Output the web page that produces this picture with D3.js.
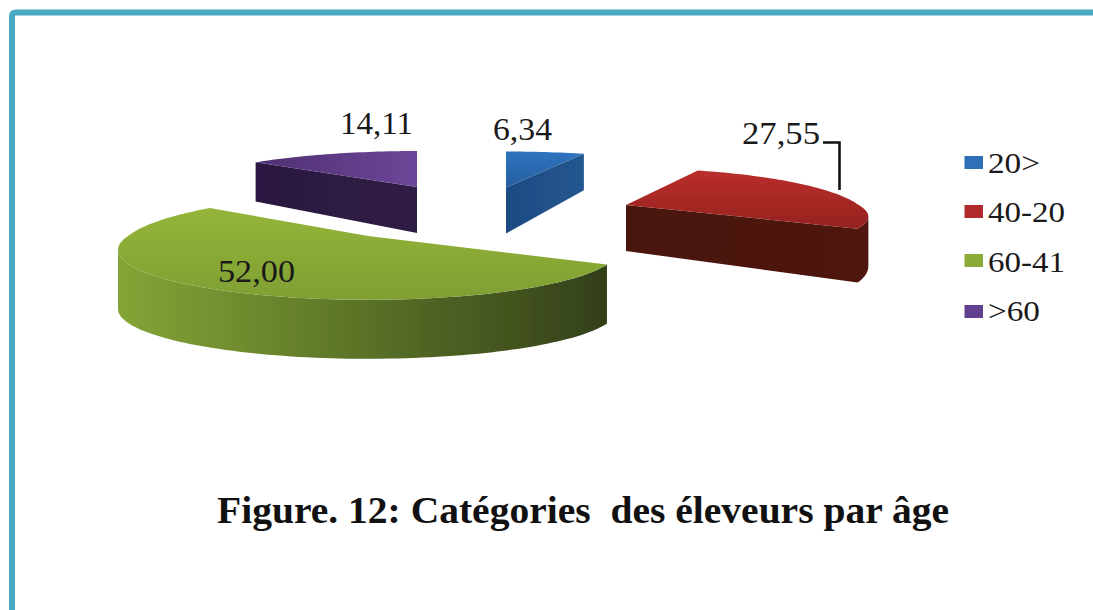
<!DOCTYPE html>
<html>
<head>
<meta charset="utf-8">
<script src="https://cdn.jsdelivr.net/npm/d3@7"></script>
<style>
html,body{margin:0;padding:0;background:#fff;overflow:hidden}
svg{display:block}
text{font-family:"Liberation Serif",serif;fill:#1a1a1a;white-space:pre}
</style>
</head>
<body>
<script>
const categories = ["20>", "40-20", "60-41", ">60"];
const values = [6.34, 27.55, 52.00, 14.11];
const titleText = "Figure. 12: Catégories  des éleveurs par âge";

const W = 1093, H = 610;
const R = 245, DEPTH = 46, PERSP = 0.279;
const apexes = [[506,187.5],[626,205],[368,236],[417,187]];
const radiusScale = [1.03, 0.95, 0.98, 1];
const ryBack = [46, 47, 52, 46];
const ryFront = [43, 38, 46, 43];
const fixedDepth = [null, null, 59, null];
const labelPos = [{x:493,y:140,w:59},{x:742,y:144,w:78},{x:218,y:282,w:77},{x:340,y:134,w:73}];
const topStops = [["#2f74c0","#255e9e"],["#ba2e2b","#95221f"],["#94b539","#7f9f33"],["#4f3072","#6d4699"]];
const wallStops = [["#1c4a82","#24578f"],["#4a1210","#4f1311"],["#84a536","#323f19"],["#2b1940","#2e1b44"]];
const swatch = ["#2f6fb8","#b02a2c","#8aab38","#60408f"];
const legendY = [162.5, 211.5, 260.5, 311.5];
const legendBase = [173, 222, 272, 321];
const legendW = [52, 77, 77, 52];

const fmt = d3.formatLocale({decimal:",",thousands:" ",grouping:[3],currency:["",""]}).format(".2f");

const svg = d3.select("body").append("svg").attr("width",W).attr("height",H);
const defs = svg.append("defs");
defs.append("filter").attr("id","soft").attr("x","-5%").attr("y","-5%").attr("width","110%").attr("height","110%")
  .append("feGaussianBlur").attr("stdDeviation",0.6);

svg.append("rect").attr("width",W).attr("height",H).attr("fill","#fff");
svg.append("path")
  .attr("d",`M12,${H+10} V16 Q12,12.5 16,12.5 H${W+10}`)
  .attr("fill","none").attr("stroke","#4ba9c5").attr("stroke-width",6);

const slices = d3.pie().sort(null).startAngle(0).endAngle(2*Math.PI)(values);
const line = d3.line();
const marks = svg.append("g").attr("filter","url(#soft)");

function project(i, theta, radial, h){
  const apex = apexes[i];
  const u = Math.sin(theta)*radial, v = -Math.cos(theta)*radial;
  const s = 1/(1 - PERSP*v);
  const ry = v < 0 ? ryBack[i] : ryFront[i];
  const depth = fixedDepth[i] === null ? DEPTH*s : fixedDepth[i];
  return [apex[0]+u*R*radiusScale[i]*s, apex[1]+v*ry*s+h*depth];
}

slices.forEach((d,i)=>{
  const n = Math.max(8, Math.round((d.endAngle-d.startAngle)*40));
  const thetas = d3.range(n+1).map(k=>d.startAngle+(d.endAngle-d.startAngle)*k/n);
  const outline = [{t:0,r:0}].concat(thetas.map(t=>({t,r:1})));
  const top = outline.map(p=>project(i,p.t,p.r,0));
  const bot = outline.map(p=>project(i,p.t,p.r,1));
  const xs = top.map(p=>p[0]), ys = top.map(p=>p[1]);

  const gw = defs.append("linearGradient").attr("id","w"+i).attr("gradientUnits","userSpaceOnUse")
    .attr("x1",d3.min(xs)).attr("x2",d3.max(xs)).attr("y1",0).attr("y2",0);
  gw.append("stop").attr("offset",0).attr("stop-color",wallStops[i][0]);
  gw.append("stop").attr("offset",1).attr("stop-color",wallStops[i][1]);

  const horizontal = i===3;
  const gt = defs.append("linearGradient").attr("id","t"+i).attr("gradientUnits","userSpaceOnUse")
    .attr("x1",horizontal?d3.min(xs):0).attr("x2",horizontal?d3.max(xs):0)
    .attr("y1",horizontal?0:d3.min(ys)).attr("y2",horizontal?0:d3.max(ys));
  gt.append("stop").attr("offset",0).attr("stop-color",topStops[i][0]);
  gt.append("stop").attr("offset",1).attr("stop-color",topStops[i][1]);

  const g = marks.append("g");
  const count = top.length;
  let wallPath = "";
  for(let a=0;a<count;a++){
    const b=(a+1)%count;
    if(top[b][0] < top[a][0]) wallPath += line([top[a],top[b],bot[b],bot[a]])+"Z";
  }
  g.append("path").attr("d",wallPath).attr("fill",`url(#w${i})`);
  g.append("path").attr("d",line(top)+"Z").attr("fill",`url(#t${i})`);
});

// leader line for the 40-20 slice
svg.append("path").attr("d","M823,142.5 H839.5 V190").attr("fill","none")
  .attr("stroke","#111").attr("stroke-width",2.6);

// data labels
svg.selectAll("text.lab").data(values).join("text").attr("class","lab")
  .attr("x",(d,i)=>labelPos[i].x).attr("y",(d,i)=>labelPos[i].y)
  .attr("font-size",31).attr("textLength",(d,i)=>labelPos[i].w).attr("lengthAdjust","spacingAndGlyphs")
  .text(d=>fmt(d));

// legend
const lg = svg.selectAll("g.leg").data(categories).join("g").attr("class","leg");
lg.append("rect").attr("x",964.5).attr("width",18.5).attr("height",13)
  .attr("y",(d,i)=>legendY[i]-6.5).attr("fill",(d,i)=>swatch[i]);
lg.append("text").attr("x",988).attr("y",(d,i)=>legendBase[i])
  .attr("font-size",30).attr("textLength",(d,i)=>legendW[i]).attr("lengthAdjust","spacingAndGlyphs")
  .text(d=>d);

// caption
svg.append("text").attr("x",217).attr("y",523).attr("font-size",38).attr("font-weight","bold")
  .attr("textLength",732).attr("lengthAdjust","spacingAndGlyphs").style("fill","#111").text(titleText);
</script>
</body>
</html>
